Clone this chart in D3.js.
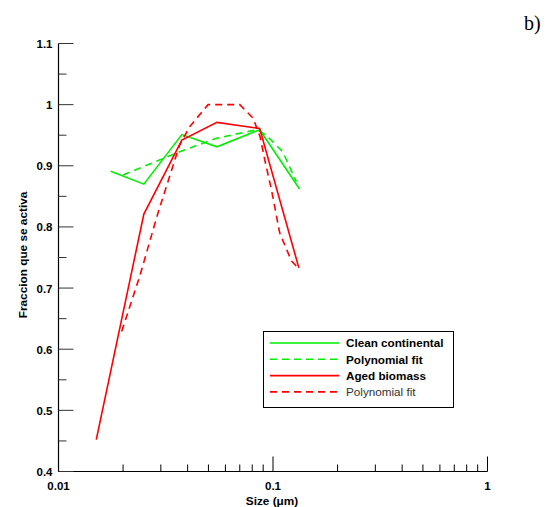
<!DOCTYPE html>
<html>
<head>
<meta charset="utf-8">
<style>
body { margin: 0; background: #fff; }
text { font-family: 'Liberation Sans', Arial, sans-serif; }
</style>
</head>
<body>
<script src="https://d3js.org/d3.v7.min.js"></script>
<script>
// data: [size (um), fraction]
const cleanContinental = [[0.0175, 0.891], [0.025, 0.870], [0.0376, 0.951], [0.0548, 0.931], [0.0867, 0.959], [0.133, 0.862]];
const cleanFit = [[0.020, 0.885], [0.0367, 0.923], [0.0545, 0.945], [0.0837, 0.959], [0.093, 0.950], [0.111, 0.923], [0.1285, 0.874]];
const agedBiomass = [[0.015, 0.452], [0.025, 0.821], [0.0376, 0.942], [0.0548, 0.971], [0.0867, 0.961], [0.132, 0.733]];
const agedFit = [[0.0197, 0.629], [0.0239, 0.719], [0.0291, 0.823], [0.0367, 0.934], [0.0409, 0.964], [0.0498, 1.0], [0.070, 1.0], [0.0807, 0.978], [0.087, 0.948], [0.0915, 0.910], [0.0983, 0.861], [0.1075, 0.79], [0.122, 0.744], [0.131, 0.733]];

const yTicks = [0.4, 0.5, 0.6, 0.7, 0.8, 0.9, 1, 1.1];
const xTicks = [0.01, 0.1, 1];
const xTickLabels = ["0.01", "0.1", "1"];

const series = [
  {name: "Clean continental", data: cleanContinental, color: "#00ee00", dash: null, bold: true},
  {name: "Polynomial fit", data: cleanFit, color: "#00ee00", dash: "7,5", bold: true},
  {name: "Aged biomass", data: agedBiomass, color: "#ff0000", dash: null, bold: true},
  {name: "Polynomial fit", data: agedFit, color: "#ff0000", dash: "7,5", bold: false}
];

const W = 554, H = 507;
const svg = d3.select("body").append("svg").attr("width", W).attr("height", H);

const x = d3.scaleLog().domain([0.01, 1]).range([58.5, 487.5]);
const y = d3.scaleLinear().domain([0.4, 1.1]).range([471.5, 43.5]);

// axes lines
svg.append("line").attr("x1", x(0.01)).attr("x2", x(0.01)).attr("y1", y(1.1)).attr("y2", y(0.4))
  .attr("stroke", "#000").attr("stroke-width", 1.2);
svg.append("line").attr("x1", x(0.01)).attr("x2", x(1)).attr("y1", y(0.4)).attr("y2", y(0.4))
  .attr("stroke", "#000").attr("stroke-width", 1.2);

// y ticks (inward)
const yMinor = d3.range(0.45, 1.1, 0.1);
svg.selectAll(".ymaj").data(yTicks).enter().append("line")
  .attr("x1", x(0.01)).attr("x2", x(0.01) + 15)
  .attr("y1", d => y(d)).attr("y2", d => y(d))
  .attr("stroke", "#333").attr("stroke-width", 1);
svg.selectAll(".ymin").data(yMinor).enter().append("line")
  .attr("x1", x(0.01)).attr("x2", x(0.01) + 8)
  .attr("y1", d => y(d)).attr("y2", d => y(d))
  .attr("stroke", "#333").attr("stroke-width", 1);
svg.selectAll(".ylab").data(yTicks).enter().append("text")
  .attr("x", x(0.01) - 6).attr("y", d => y(d) + 4.5)
  .attr("text-anchor", "end").attr("font-size", 11.5).attr("font-weight", "bold")
  .text(d => d3.format("~g")(d));

// x ticks (inward)
const xMinor = [];
[0.01, 0.1].forEach(dec => { for (let k = 2; k <= 9; k++) xMinor.push(dec * k); });
svg.selectAll(".xmaj").data(xTicks).enter().append("line")
  .attr("x1", d => x(d)).attr("x2", d => x(d))
  .attr("y1", y(0.4)).attr("y2", y(0.4) - 15)
  .attr("stroke", "#000").attr("stroke-width", 1);
svg.selectAll(".xmin").data(xMinor).enter().append("line")
  .attr("x1", d => x(d)).attr("x2", d => x(d))
  .attr("y1", y(0.4)).attr("y2", y(0.4) - 7)
  .attr("stroke", "#000").attr("stroke-width", 1);
svg.selectAll(".xlab").data(xTicks).enter().append("text")
  .attr("x", d => x(d)).attr("y", y(0.4) + 18)
  .attr("text-anchor", "middle").attr("font-size", 11.5).attr("font-weight", "bold")
  .text((d, i) => xTickLabels[i]);

// axis titles
svg.append("text").attr("x", 272).attr("y", 505)
  .attr("text-anchor", "middle").attr("font-size", 11.8).attr("font-weight", "bold")
  .text("Size (\u03bcm)");
svg.append("text").attr("transform", "translate(27,255) rotate(-90)")
  .attr("text-anchor", "middle").attr("font-size", 11.8).attr("font-weight", "bold")
  .text("Fraccion que se activa");

// lines
const line = d3.line().x(d => x(d[0])).y(d => y(d[1]));
series.forEach(s => {
  svg.append("path").datum(s.data).attr("d", line)
    .attr("fill", "none").attr("stroke", s.color).attr("stroke-width", 1.6)
    .attr("stroke-dasharray", s.dash);
});

// legend
const lg = svg.append("g");
lg.append("rect").attr("x", 263.5).attr("y", 331.5).attr("width", 190).attr("height", 76)
  .attr("fill", "#fff").attr("stroke", "#000").attr("stroke-width", 1);
series.forEach((s, i) => {
  const yy = 343 + i * 16.3;
  lg.append("line").attr("x1", 270).attr("x2", 339).attr("y1", yy).attr("y2", yy)
    .attr("stroke", s.color).attr("stroke-width", 1.6).attr("stroke-dasharray", s.dash);
  lg.append("text").attr("x", 346).attr("y", yy + 4.3)
    .attr("font-size", 11.7).attr("font-weight", s.bold ? "bold" : "normal")
    .attr("fill", s.bold ? "#000" : "#333")
    .text(s.name);
});

// panel label
svg.append("text").attr("x", 524).attr("y", 30)
  .attr("font-size", 20)
  .style("font-family", "'Liberation Serif', 'Times New Roman', serif")
  .text("b)");
</script>
</body>
</html>
